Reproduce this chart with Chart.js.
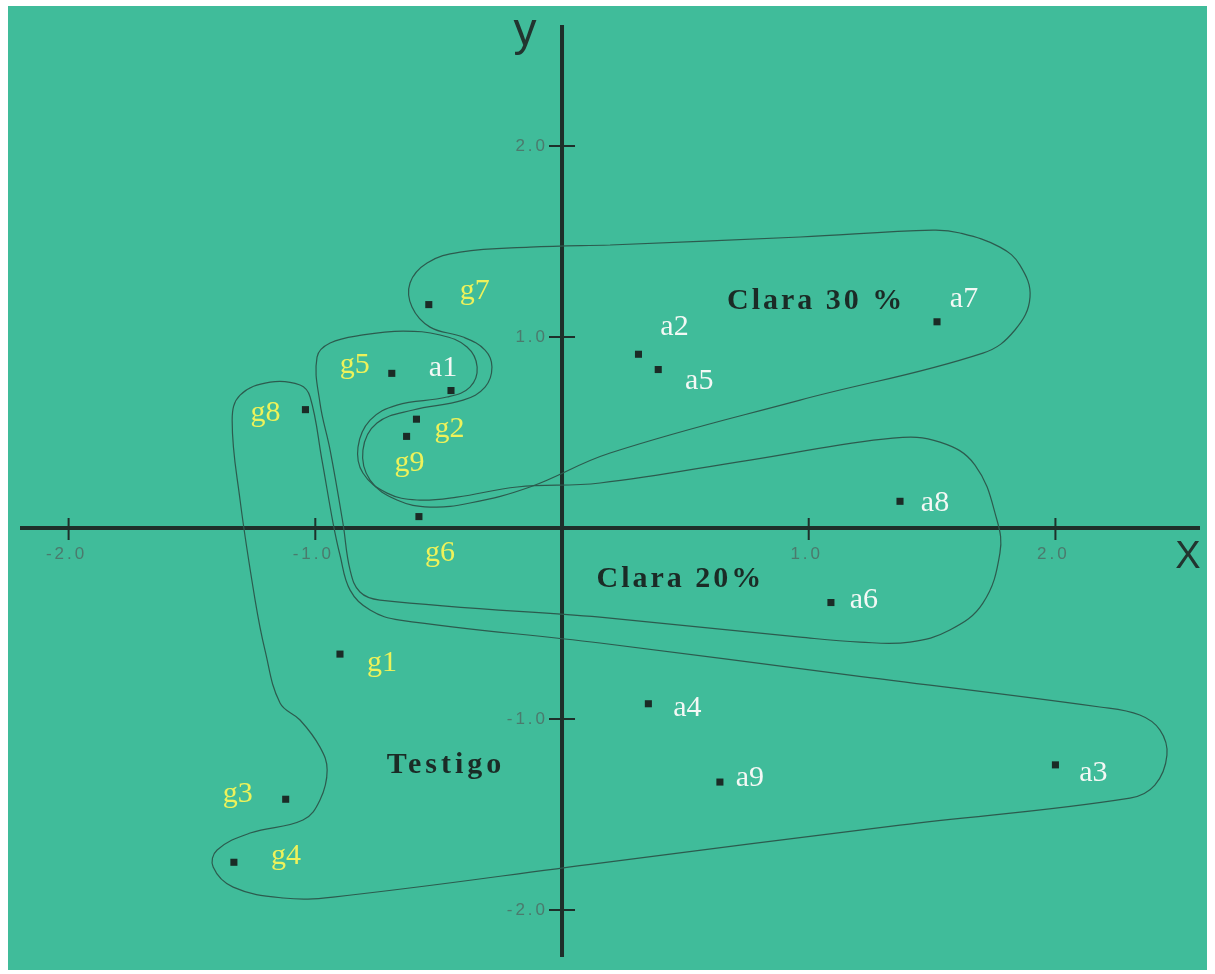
<!DOCTYPE html>
<html lang="es">
<head>
  <meta charset="UTF-8">
  <title>Testigo / Clara 20% / Clara 30%</title>
  <script src="https://cdn.jsdelivr.net/npm/chart.js"></script>
  <style>
    html, body { margin: 0; padding: 0; background: #ffffff; }
    .wrap { position: absolute; left: 8px; top: 6px; width: 1199px; height: 964px; }
  </style>
</head>
<body>

  <div class="wrap">
    <canvas id="biplot" width="1199" height="964"></canvas>
  </div>

  <script>
    // --- data ---
    const gLabels = ['g1', 'g2', 'g3', 'g4', 'g5', 'g6', 'g7', 'g8', 'g9'];
    const gX = [-0.90, -0.59, -1.12, -1.33, -0.69, -0.58, -0.54, -1.04, -0.63];
    const gY = [-0.66, 0.57, -1.42, -1.75, 0.81, 0.06, 1.17, 0.62, 0.48];

    const aLabels = ['a1', 'a2', 'a3', 'a4', 'a5', 'a6', 'a7', 'a8', 'a9'];
    const aX = [-0.45, 0.31, 2.00, 0.35, 0.39, 1.09, 1.52, 1.37, 0.64];
    const aY = [0.72, 0.91, -1.24, -0.92, 0.83, -0.39, 1.08, 0.14, -1.33];

    const xTicks = [-2, -1, 1, 2];
    const yTicks = [2, 1, -1, -2];

    const groupNames = ['Clara 30 %', 'Clara 20%', 'Testigo'];
    const groupX = [1.03, 0.48, -0.47];
    const groupY = [1.19, -0.27, -1.24];

    // hand drawn group outlines, [x, y] in axis units
    const clara30Outline = [
      [0.195, 1.482], [-0.130, 1.471], [-0.413, 1.445], [-0.547, 1.388], [-0.616, 1.283],
      [-0.608, 1.157], [-0.535, 1.052], [-0.401, 1.000], [-0.312, 0.932], [-0.284, 0.843],
      [-0.312, 0.738], [-0.401, 0.670], [-0.604, 0.618], [-0.750, 0.550], [-0.807, 0.408],
      [-0.778, 0.251], [-0.669, 0.147], [-0.535, 0.110], [-0.373, 0.131], [-0.130, 0.215],
      [0.195, 0.393], [0.965, 0.670], [1.706, 0.916], [1.836, 1.037], [1.897, 1.209],
      [1.856, 1.377], [1.775, 1.471], [1.613, 1.545], [1.504, 1.560], [0.965, 1.524],
      [0.195, 1.482]
    ];
    const clara20Outline = [
      [0.154, -0.466], [-0.738, -0.377], [-0.819, -0.335], [-0.859, -0.220], [-0.888, 0.026],
      [-0.940, 0.408], [-0.981, 0.654], [-0.993, 0.895], [-0.940, 0.969], [-0.807, 1.011],
      [-0.644, 1.031], [-0.494, 1.011], [-0.385, 0.948], [-0.344, 0.843], [-0.373, 0.738],
      [-0.466, 0.686], [-0.669, 0.644], [-0.778, 0.565], [-0.827, 0.424], [-0.807, 0.288],
      [-0.709, 0.183], [-0.588, 0.147], [-0.426, 0.162], [-0.182, 0.215], [0.154, 0.236],
      [0.762, 0.356], [1.341, 0.471], [1.532, 0.450], [1.674, 0.330], [1.763, 0.042],
      [1.775, -0.131], [1.706, -0.393], [1.572, -0.534], [1.410, -0.597], [1.208, -0.597],
      [0.965, -0.571], [0.154, -0.466]
    ];
    const testigoOutline = [
      [0.154, -1.754], [1.370, -1.555], [2.302, -1.414], [2.403, -1.346], [2.452, -1.189],
      [2.424, -1.058], [2.342, -0.979], [2.180, -0.937], [1.167, -0.770], [0.154, -0.602],
      [-0.657, -0.482], [-0.778, -0.429], [-0.859, -0.325], [-0.900, -0.141], [-0.928, 0.026],
      [-0.973, 0.356], [-1.021, 0.686], [-1.062, 0.749], [-1.183, 0.764], [-1.305, 0.696],
      [-1.337, 0.565], [-1.305, 0.147], [-1.244, -0.377], [-1.204, -0.639], [-1.143, -0.916],
      [-1.062, -1.005], [-0.981, -1.147], [-0.952, -1.267], [-0.981, -1.424], [-1.050, -1.529],
      [-1.264, -1.597], [-1.398, -1.686], [-1.414, -1.775], [-1.333, -1.880], [-1.131, -1.937],
      [-0.928, -1.932], [0.154, -1.754]
    ];

    // label placement next to each point (pixels)
    const gLabelOffset = [[42, 9], [33, 10], [-48, -5], [52, -6], [-37, -8], [21, 37], [46, -13], [-40, 3], [3, 27]];
    const aLabelOffset = [[-8, -22], [36, -27], [38, 8], [39, 4], [41, 12], [33, -2], [27, -23], [35, 2], [30, -4]];

    const green = '#40bc9a';
    const ink = '#1b2b26';

    function toPoints(xs, ys) {
      return xs.map((x, i) => ({ x: x, y: ys[i] }));
    }
    function outlinePoints(list) {
      return list.map(p => ({ x: p[0], y: p[1] }));
    }
    function outlineSet(list) {
      return {
        data: outlinePoints(list),
        showLine: true,
        tension: 0.4,
        borderColor: '#2c5b4e',
        borderWidth: 1.2,
        pointRadius: 0,
        fill: false,
        order: 2
      };
    }

    const axesPlugin = {
      id: 'crossAxes',
      beforeDraw(chart) {
        const ctx = chart.ctx;
        ctx.save();
        ctx.fillStyle = green;
        ctx.fillRect(0, 0, chart.width, chart.height);
        ctx.restore();
      },
      beforeDatasetsDraw(chart) {
        const ctx = chart.ctx;
        const area = chart.chartArea;
        const xs = chart.scales.x;
        const ys = chart.scales.y;
        const x0 = xs.getPixelForValue(0);
        const y0 = ys.getPixelForValue(0);
        ctx.save();
        ctx.strokeStyle = '#1e2f2a';
        ctx.lineWidth = 4;
        ctx.beginPath();
        ctx.moveTo(area.left, y0);
        ctx.lineTo(area.right, y0);
        ctx.moveTo(x0, area.top);
        ctx.lineTo(x0, area.bottom);
        ctx.stroke();

        // tick marks crossing the axes
        ctx.lineWidth = 2;
        ctx.beginPath();
        xTicks.forEach(v => {
          const px = xs.getPixelForValue(v);
          ctx.moveTo(px, y0 - 10);
          ctx.lineTo(px, y0 + 12);
        });
        yTicks.forEach(v => {
          const py = ys.getPixelForValue(v);
          ctx.moveTo(x0 - 13, py);
          ctx.lineTo(x0 + 13, py);
        });
        ctx.stroke();

        // tick labels
        ctx.fillStyle = '#4b7a6d';
        ctx.font = '17px "Liberation Sans", Arial, sans-serif';
        ctx.letterSpacing = '3px';
        ctx.textBaseline = 'middle';
        ctx.textAlign = 'center';
        xTicks.forEach(v => {
          ctx.fillText(v.toFixed(1), xs.getPixelForValue(v) - 2, y0 + 26);
        });
        ctx.textAlign = 'right';
        yTicks.forEach(v => {
          ctx.fillText(v.toFixed(1), x0 - 14, ys.getPixelForValue(v));
        });

        // axis names
        ctx.letterSpacing = '0px';
        ctx.fillStyle = '#22342f';
        ctx.textAlign = 'center';
        ctx.textBaseline = 'alphabetic';
        ctx.font = '46px "Liberation Sans", Arial, sans-serif';
        ctx.fillText('y', x0 - 37, area.top + 20);
        ctx.font = '38px "Liberation Sans", Arial, sans-serif';
        ctx.fillText('X', area.right - 12, y0 + 40);
        ctx.restore();
      },
      afterDatasetsDraw(chart) {
        const ctx = chart.ctx;
        const xs = chart.scales.x;
        const ys = chart.scales.y;
        ctx.save();
        ctx.textAlign = 'center';
        ctx.textBaseline = 'middle';
        ctx.font = '30px "Liberation Serif", "Times New Roman", serif';

        const gMeta = chart.getDatasetMeta(3);
        ctx.fillStyle = '#eef25a';
        gMeta.data.forEach((pt, i) => {
          ctx.fillText(gLabels[i], pt.x + gLabelOffset[i][0], pt.y + gLabelOffset[i][1]);
        });
        const aMeta = chart.getDatasetMeta(4);
        ctx.fillStyle = '#f4f8f5';
        aMeta.data.forEach((pt, i) => {
          ctx.fillText(aLabels[i], pt.x + aLabelOffset[i][0], pt.y + aLabelOffset[i][1]);
        });

        // group names
        ctx.fillStyle = ink;
        ctx.font = 'bold 30px "Liberation Serif", "Times New Roman", serif';
        groupNames.forEach((name, i) => {
          ctx.letterSpacing = name === 'Testigo' ? '4px' : '3px';
          ctx.fillText(name, xs.getPixelForValue(groupX[i]), ys.getPixelForValue(groupY[i]));
        });
        ctx.restore();
      }
    };

    const ctx = document.getElementById('biplot').getContext('2d');
    const biplot = new Chart(ctx, {
      type: 'scatter',
      data: {
        datasets: [
          outlineSet(clara30Outline),
          outlineSet(clara20Outline),
          outlineSet(testigoOutline),
          {
            label: 'g',
            data: toPoints(gX, gY),
            pointStyle: 'rect',
            pointRadius: 5,
            backgroundColor: ink,
            borderWidth: 0,
            order: 1
          },
          {
            label: 'a',
            data: toPoints(aX, aY),
            pointStyle: 'rect',
            pointRadius: 5,
            backgroundColor: ink,
            borderWidth: 0,
            order: 1
          }
        ]
      },
      options: {
        responsive: false,
        animation: false,
        devicePixelRatio: 1,
        layout: { padding: { left: 12, right: 7, top: 19, bottom: 13 } },
        scales: {
          x: { type: 'linear', min: -2.197, max: 2.586, display: false },
          y: { type: 'linear', min: -2.246, max: 2.634, display: false }
        },
        plugins: {
          legend: { display: false },
          tooltip: { enabled: false }
        }
      },
      plugins: [axesPlugin]
    });
  </script>

</body>
</html>
